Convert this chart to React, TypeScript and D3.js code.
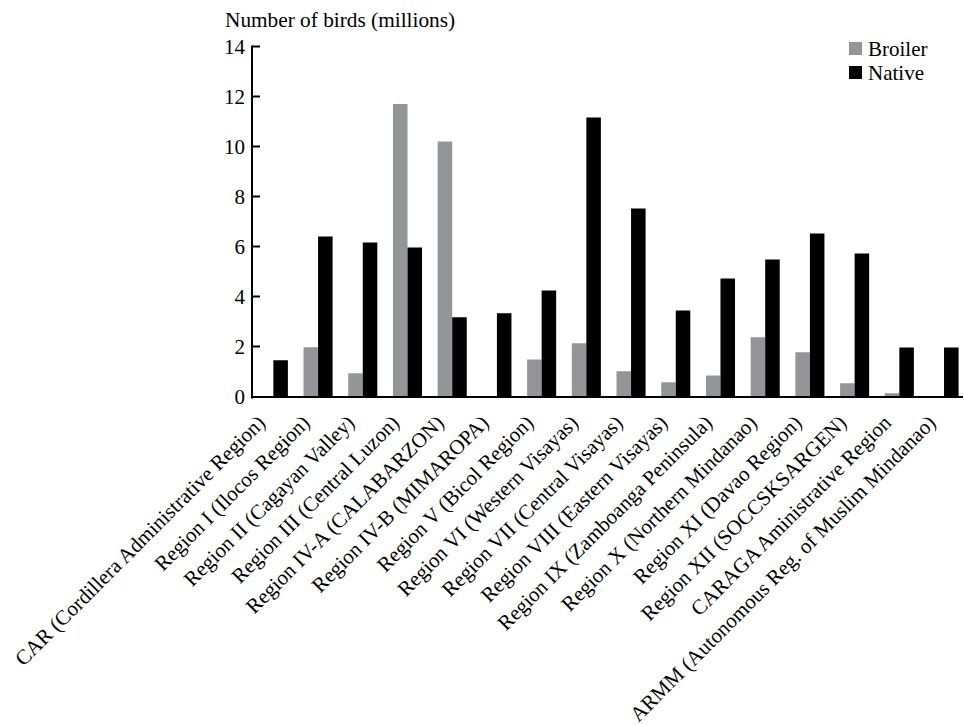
import React from "react";
import * as d3 from "d3";

const categories = [
  "CAR (Cordillera Administrative Region)",
  "Region I (Ilocos Region)",
  "Region II (Cagayan Valley)",
  "Region III (Central Luzon)",
  "Region IV-A (CALABARZON)",
  "Region IV-B (MIMAROPA)",
  "Region V (Bicol Region)",
  "Region VI (Western Visayas)",
  "Region VII (Central Visayas)",
  "Region VIII (Eastern Visayas)",
  "Region IX (Zamboanga Peninsula)",
  "Region X (Northern Mindanao)",
  "Region XI (Davao Region)",
  "Region XII (SOCCSKSARGEN)",
  "CARAGA Aministrative Region",
  "ARMM (Autonomous Reg. of Muslim Mindanao)",
];
const broiler = [0, 1.97, 0.93, 11.7, 10.2, 0, 1.48, 2.13, 1.01, 0.57, 0.84, 2.37, 1.77, 0.53, 0.13, 0];
const native = [1.45, 6.4, 6.16, 5.96, 3.17, 3.33, 4.24, 11.16, 7.52, 3.44, 4.72, 5.48, 6.52, 5.72, 1.96, 1.96];
const series = ["Broiler", "Native"];
const yTicks = [0, 2, 4, 6, 8, 10, 12, 14];
const yTitle = "Number of birds (millions)";

const colors: Record<string, string> = { Broiler: "#939598", Native: "#000000" };
const font = "'Liberation Serif', 'Times New Roman', serif";

export default function App() {
  const axisX = 252;
  const x = d3
    .scaleBand<string>()
    .domain(categories)
    .range([251, 966.4])
    .paddingInner(0.35)
    .paddingOuter(0.175);
  const xs = d3.scaleBand<string>().domain(series).range([0, x.bandwidth()]);
  const y = d3.scaleLinear().domain([0, 14]).range([396.5, 46.5]);
  const data: Record<string, number[]> = { Broiler: broiler, Native: native };

  return (
    <svg
      width={964}
      height={725}
      style={{ position: "absolute", left: 0, top: 0, background: "#fff" }}
      fontFamily={font}
    >
      <rect x={0} y={0} width={964} height={725} fill="#fff" />
      {/* bars */}
      {categories.map((c, i) => (
        <g key={c} transform={`translate(${x(c)},0)`}>
          {series.map((s) => {
            const v = data[s][i];
            return (
              <rect
                key={s}
                x={xs(s)}
                y={y(v)}
                width={xs.bandwidth()}
                height={y(0) - y(v)}
                fill={colors[s]}
              />
            );
          })}
        </g>
      ))}
      {/* y axis */}
      <line x1={axisX} x2={axisX} y1={y(14) - 1} y2={y(0) + 2} stroke="#000" strokeWidth={2} />
      {yTicks.map((t) => (
        <g key={t}>
          {t > 0 && (
            <line x1={axisX} x2={axisX + 8} y1={y(t)} y2={y(t)} stroke="#000" strokeWidth={2} />
          )}
          <text
            x={245}
            y={y(t)}
            dy="0.37em"
            textAnchor="end"
            fontSize={21}
            fill="#000"
          >
            {t}
          </text>
        </g>
      ))}
      {/* x axis baseline */}
      <line x1={axisX - 1} x2={963} y1={y(0) + 0.5} y2={y(0) + 0.5} stroke="#000" strokeWidth={2} />
      {/* x labels */}
      {categories.map((c) => {
        const cx = (x(c) as number) + x.bandwidth() / 2;
        return (
          <text
            key={c}
            transform={`translate(${cx - 7},424) rotate(-45)`}
            textAnchor="end"
            fontSize={21}
            fill="#000"
          >
            {c}
          </text>
        );
      })}
      {/* y title */}
      <text x={225} y={27} fontSize={21.3} fill="#000">
        {yTitle}
      </text>
      {/* legend */}
      {series.map((s, i) => (
        <g key={s} transform={`translate(849,${42 + i * 24})`}>
          <rect x={0} y={0} width={13} height={13} fill={colors[s]} />
          <text x={19} y={13.5} fontSize={21} fill="#000">
            {s}
          </text>
        </g>
      ))}
    </svg>
  );
}
